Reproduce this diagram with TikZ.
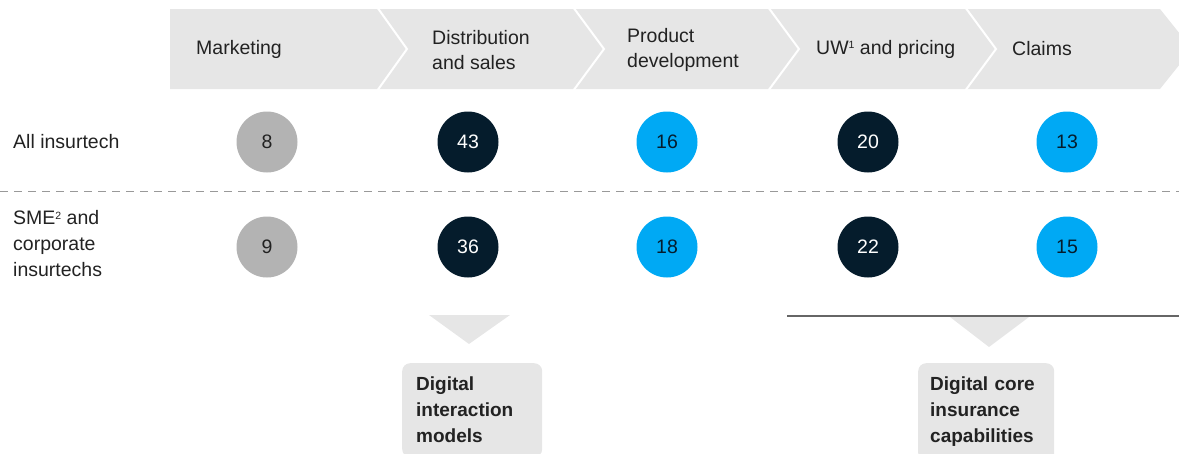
\documentclass[tikz,border=0pt]{standalone}
\usepackage{fontspec}
\setmainfont{Liberation Sans}
\usepackage{tikz}
\definecolor{band}{HTML}{E6E6E6}
\definecolor{navy}{HTML}{051C2C}
\definecolor{skyblue}{HTML}{00A9F4}
\definecolor{greydot}{HTML}{B3B3B3}
\definecolor{ink}{HTML}{222222}
\newcommand{\fnmark}[1]{\raisebox{5.5pt}{\fontsize{10.5}{10.5}\selectfont#1}}
\tikzset{
  lbl/.style={anchor=west,align=left,text=ink,inner sep=0pt,font=\fontsize{19.5}{25}\selectfont},
  numdot/.style={circle,minimum size=61pt,inner sep=0pt,font=\fontsize{19.5}{23}\selectfont},
  greyn/.style={numdot,fill=greydot,text=ink},
  navyn/.style={numdot,fill=navy,text=white},
  bluen/.style={numdot,fill=skyblue,text=navy},
  capbox/.style={anchor=north west,fill=band,rounded corners=8pt,text width=112pt,inner xsep=14pt,inner ysep=14pt,align=left,text=ink,font=\bfseries\fontsize{19}{26}\selectfont}
}

\begin{document}
\begin{tikzpicture}[x=1pt,y=-1pt]
  \useasboundingbox (0,0) rectangle (1179,453);
  \clip (0,0) rectangle (1179,453);
  % value chain band
  \fill[band] (170,9) -- (1160,9) -- (1192,49) -- (1160,89) -- (170,89) -- cycle;
  \draw[white,line width=2pt] (377,7) -- (407,49) -- (377,91);
  \draw[white,line width=2pt] (573,7) -- (604,49) -- (573,91);
  \draw[white,line width=2pt] (768,7) -- (799,49) -- (768,91);
  \draw[white,line width=2pt] (965,7) -- (996,49) -- (965,91);
  \node (mkt) at (196,49) [lbl] {Marketing};
  \node (dist) at (432,50) [lbl] {Distribution\\and sales};
  \node (prod) at (627,50) [lbl] {Product\\development};
  \node (uw) at (816,49) [lbl] {UW\fnmark{1} and pricing};
  \node (clm) at (1012,49) [lbl] {Claims};

  % rows
  \node (all) at (13,142) [lbl] {All insurtech};
  \node (sme) at (13,244) [lbl,font=\fontsize{19.5}{26}\selectfont] {SME\fnmark{2} and\\corporate\\insurtechs};
  \draw[gray!80,line width=1pt,dash pattern=on 8pt off 6pt] (0,191) -- (1179,191);

  \node (a1) at (267,142) [greyn] {8};
  \node (a2) at (468,142) [navyn] {43};
  \node (a3) at (667,142) [bluen] {16};
  \node (a4) at (868,142) [navyn] {20};
  \node (a5) at (1067,142) [bluen] {13};
  \node (b1) at (267,247) [greyn] {9};
  \node (b2) at (468,247) [navyn] {36};
  \node (b3) at (667,247) [bluen] {18};
  \node (b4) at (868,247) [navyn] {22};
  \node (b5) at (1067,247) [bluen] {15};

  % groupings
  \fill[band] (429,315) -- (510,315) -- (469,344) -- cycle;
  \draw[gray!120,line width=1.2pt] (787,316) -- (1179,316);
  \fill[band] (950,317) -- (1029,317) -- (989,347) -- cycle;
  \node (dim) at (402,363) [capbox] {Digital\\interaction\\models};
  \node (dci) at (918,363) [capbox,inner xsep=12pt] {Digital core\\insurance\\capabilities};
\end{tikzpicture}
\end{document}
